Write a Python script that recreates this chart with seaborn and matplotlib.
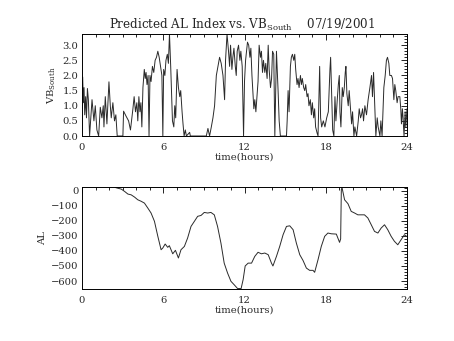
import matplotlib
matplotlib.use("Agg")
import matplotlib.pyplot as plt
from matplotlib.ticker import MultipleLocator, AutoMinorLocator, FormatStrFormatter
import pandas as pd
import seaborn as sns

# Solar wind southward VB (mV/m), hourly time axis
vb_time = [0.00, 0.05, 0.10, 0.15, 0.20, 0.27, 0.33, 0.40, 0.47, 0.56,
           0.74, 0.88, 0.98, 1.10, 1.23, 1.35, 1.47, 1.57, 1.62, 1.72,
           1.84, 1.99, 2.09, 2.16, 2.28, 2.40, 2.50, 2.60, 3.02, 3.07,
           3.26, 3.44, 3.58, 3.76, 3.85, 3.95, 4.05, 4.12, 4.20, 4.28,
           4.35, 4.42, 4.50, 4.60, 4.67, 4.73, 4.80, 4.88, 4.95, 5.02,
           5.10, 5.20, 5.30, 5.40, 5.50, 5.60, 5.70, 5.80, 5.90, 5.97,
           6.03, 6.12, 6.20, 6.30, 6.38, 6.46, 6.55, 6.68, 6.78, 6.85,
           6.92, 7.02, 7.12, 7.22, 7.29, 7.39, 7.46, 7.54, 7.63, 7.71,
           7.95, 8.00, 9.18, 9.30, 9.42, 9.55, 9.67, 9.79, 9.92, 10.04,
           10.16, 10.28, 10.41, 10.53, 10.60, 10.71, 10.82, 10.90, 10.97, 11.07,
           11.14, 11.22, 11.32, 11.39, 11.46, 11.56, 11.66, 11.73, 11.83, 11.93,
           12.00, 12.08, 12.22, 12.31, 12.40, 12.47, 12.55, 12.69, 12.76, 12.84,
           12.94, 13.00, 13.08, 13.18, 13.25, 13.33, 13.40, 13.50, 13.57, 13.67,
           13.75, 13.82, 13.92, 14.00, 14.07, 14.16, 14.24, 14.36, 14.48, 14.56,
           14.65, 15.10, 15.15, 15.22, 15.29, 15.39, 15.46, 15.54, 15.64, 15.71,
           15.78, 15.88, 15.95, 16.03, 16.13, 16.20, 16.27, 16.37, 16.45, 16.52,
           16.62, 16.69, 16.76, 16.86, 16.94, 17.01, 17.11, 17.18, 17.25, 17.36,
           17.43, 17.55, 17.62, 17.70, 17.82, 17.94, 18.07, 18.19, 18.31, 18.36,
           18.43, 18.51, 18.60, 18.68, 18.75, 18.85, 18.93, 19.00, 19.05, 19.12,
           19.22, 19.29, 19.37, 19.44, 19.49, 19.56, 19.66, 19.73, 19.83, 19.91,
           19.98, 20.08, 20.15, 20.28, 20.40, 20.47, 20.57, 20.64, 20.72, 20.79,
           20.89, 21.01, 21.13, 21.26, 21.38, 21.45, 21.53, 21.62, 21.70, 21.80,
           21.87, 22.00, 22.07, 22.16, 22.29, 22.39, 22.48, 22.56, 22.66, 22.73,
           22.85, 22.93, 23.03, 23.10, 23.17, 23.27, 23.34, 23.47, 23.54, 23.59,
           23.66, 23.71, 23.78, 23.86, 23.91, 24.00]
vb_south = [0.9, 1.95, 1.1, 1.6, 0.7, 1.3, 0.6, 1.57, 1.2, 0.0,
            1.2, 0.5, 1.0, 0.2, 0.0, 0.95, 0.6, 1.0, 0.3, 1.3,
            0.4, 1.79, 1.0, 0.6, 1.1, 0.5, 0.7, 0.0, 0.0, 0.82,
            0.65, 0.5, 0.2, 0.9, 1.3, 0.8, 1.1, 0.5, 1.3, 0.8,
            1.1, 0.3, 1.6, 2.2, 1.9, 2.1, 1.7, 2.0, 0.0, 2.0,
            1.8, 2.3, 2.1, 2.5, 2.6, 2.8, 2.6, 2.3, 2.0, 0.0,
            2.2, 2.0, 2.5, 2.7, 2.4, 3.37, 2.3, 0.5, 0.3, 1.0,
            0.6, 2.2, 1.6, 1.3, 1.5, 0.8, 0.4, 0.0, 0.2, 0.0,
            0.12, 0.0, 0.0, 0.25, 0.0, 0.3, 0.6, 1.0, 2.0, 2.3,
            2.6, 2.4, 2.0, 1.2, 2.5, 3.37, 2.8, 2.3, 3.0, 2.2,
            2.6, 2.9, 2.3, 2.0, 2.8, 3.0, 2.5, 2.8, 2.3, 0.0,
            1.8, 2.5, 3.1, 3.0, 2.6, 2.9, 2.0, 0.9, 1.2, 0.8,
            1.4, 1.8, 3.0, 2.6, 2.8, 2.1, 2.5, 2.1, 2.4, 1.9,
            3.0, 2.2, 1.6, 1.9, 2.8, 2.7, 0.0, 2.8, 1.5, 0.5,
            0.0, 0.0, 0.5, 1.5, 0.8, 2.3, 2.6, 2.7, 2.5, 2.7,
            2.2, 1.7, 1.9, 1.6, 2.0, 1.7, 1.9, 1.6, 1.5, 1.7,
            1.3, 1.4, 1.0, 1.2, 0.7, 1.1, 0.6, 0.9, 0.3, 0.1,
            0.0, 2.3, 0.6, 0.3, 0.5, 0.3, 0.6, 0.8, 2.2, 2.6,
            1.5, 0.2, 0.0, 1.3, 0.5, 1.2, 1.7, 2.0, 0.8, 0.3,
            1.6, 1.3, 1.6, 2.1, 2.3, 1.4, 1.0, 1.5, 0.9, 0.4,
            0.8, 0.0, 0.3, 0.0, 0.5, 0.9, 0.6, 0.7, 0.9, 0.5,
            1.0, 0.7, 1.2, 1.6, 2.0, 1.3, 2.1, 1.0, 0.0, 0.6,
            0.3, 0.0, 0.5, 0.0, 1.6, 2.0, 2.5, 2.6, 2.4, 2.0,
            2.0, 1.9, 1.2, 1.7, 1.5, 1.1, 1.3, 1.3, 0.9, 0.4,
            0.9, 0.6, 0.0, 0.8, 0.3, 0.9]

# Predicted AL index (nT)
al_time = [2.45, 2.60, 2.90, 3.14, 3.39, 3.63, 3.88, 4.12, 4.37, 4.61,
           4.86, 5.10, 5.35, 5.60, 5.84, 5.97, 6.14, 6.33, 6.45, 6.70,
           6.90, 7.12, 7.31, 7.56, 7.80, 8.05, 8.30, 8.54, 8.79, 9.03,
           9.28, 9.52, 9.77, 10.01, 10.26, 10.50, 10.75, 11.00, 11.24, 11.49,
           11.75, 11.90, 12.05, 12.27, 12.52, 12.76, 13.00, 13.25, 13.50, 13.75,
           13.99, 14.10, 14.36, 14.60, 14.85, 15.10, 15.34, 15.59, 15.83, 16.08,
           16.32, 16.57, 16.81, 17.06, 17.18, 17.43, 17.67, 17.92, 18.16, 18.41,
           18.78, 19.02, 19.10, 19.15, 19.20, 19.39, 19.64, 19.88, 20.13, 20.37,
           20.62, 20.86, 21.11, 21.36, 21.60, 21.85, 22.09, 22.34, 22.58, 22.83,
           23.07, 23.32, 23.56, 23.81, 24.00]
al_index = [22, 18, 11, -4, -22, -27, -42, -60, -70, -82,
            -115, -148, -203, -303, -392, -380, -354, -376, -365, -419,
            -396, -447, -392, -370, -314, -237, -203, -170, -164, -144,
            -148, -144, -160, -237, -348, -481, -547, -602, -625, -650,
            -650, -590, -500, -481, -481, -436, -409, -419, -414, -425,
            -481, -500, -436, -370, -292, -237, -233, -259, -348, -425,
            -463, -514, -529, -529, -542, -458, -370, -303, -281, -286,
            -288, -343, -320, 7, 22, -60, -86, -137, -148, -160,
            -160, -160, -181, -226, -270, -281, -248, -226, -259, -303,
            -336, -359, -326, -292, -305]

hour_ticks = [0, 6, 12, 18, 24]

sns.set_theme(style="white")
plt.rcParams["font.family"] = ["DejaVu Serif"]
plt.rcParams["mathtext.fontset"] = "custom"
plt.rcParams["mathtext.rm"] = "DejaVu Serif"

FS = 7.2
line_color = "#2a2a2a"

fig = plt.figure(figsize=(4.54, 3.41), dpi=100)
ax1 = fig.add_axes([82 / 454, 1 - 136 / 341, 325 / 454, 102 / 341])
ax2 = fig.add_axes([82 / 454, 1 - 289 / 341, 325 / 454, 102 / 341])

vb_df = pd.DataFrame({"time": vb_time, "vb": vb_south})
al_df = pd.DataFrame({"time": al_time, "al": al_index})

sns.lineplot(data=vb_df, x="time", y="vb", ax=ax1, estimator=None, sort=False,
             color=line_color, linewidth=0.7)
sns.lineplot(data=al_df, x="time", y="al", ax=ax2, estimator=None, sort=False,
             color=line_color, linewidth=0.7)

ax1.set_ylim(0, 3.37)
ax1.yaxis.set_major_locator(MultipleLocator(0.5))
ax1.yaxis.set_minor_locator(AutoMinorLocator(5))
ax1.yaxis.set_major_formatter(FormatStrFormatter("%.1f"))

ax2.set_ylim(-653, 25)
ax2.yaxis.set_major_locator(MultipleLocator(100))
ax2.yaxis.set_minor_locator(AutoMinorLocator(5))

for ax in (ax1, ax2):
    ax.set_xlim(0, 24)
    ax.set_xticks(hour_ticks)
    ax.xaxis.set_minor_locator(AutoMinorLocator(6))
    ax.tick_params(which="both", direction="in", top=True, right=True,
                   width=0.6, color="black", labelsize=FS)
    ax.tick_params(which="major", length=4)
    ax.tick_params(which="minor", length=2)
    ax.tick_params(axis="x", pad=5)
    ax.tick_params(axis="y", pad=2.5)
    for sp in ax.spines.values():
        sp.set_visible(True)
        sp.set_color("black")
        sp.set_linewidth(0.7)
    ax.set_xlabel("time(hours)", fontsize=FS)
    ax.xaxis.set_label_coords(0.5, -0.165)
    ax.grid(False)
    ax.set_facecolor("white")

ax1.set_ylabel(r"VB$_{\mathrm{South}}$", fontsize=FS)
ax1.yaxis.set_label_coords(-0.075, 0.5)
ax2.set_ylabel("AL", fontsize=FS)
ax2.yaxis.set_label_coords(-0.108, 0.5)

fig.text(242 / 454, 1 - 29 / 341,
         r"Predicted AL Index vs. VB$_{\mathrm{South}}$    07/19/2001",
         ha="center", va="baseline", fontsize=8.6)

fig.savefig("out.png", dpi=100, facecolor="white")
